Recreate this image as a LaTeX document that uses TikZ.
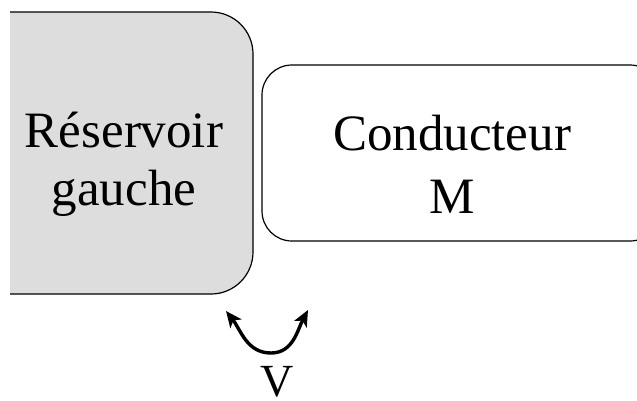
\documentclass[tikz,border=0pt]{standalone}
\usepackage{fontspec}
\setmainfont{Liberation Serif}
\usetikzlibrary{arrows.meta}
\begin{document}
\begin{tikzpicture}[x=1pt,y=1pt,
  boxline/.style={line width=1.2pt, draw=black},
  bigtext/.style={align=center, inner sep=0pt},
  tipstyle/.style={Stealth[length=16pt,width=14pt,inset=4pt]},
  swing/.style={line width=3.4pt, {Stealth[length=16pt,width=14pt,inset=4pt]}-{Stealth[length=16pt,width=14pt,inset=4pt]}}]
\useasboundingbox (0,0) rectangle (637,-400);
\clip (0,0) rectangle (637,-400);
% left reservoir
\path[fill=gray!27, boxline, rounded corners=42] (10,-12) -- (253,-12) -- (253,-294) -- (10,-294);
% right conductor
\path[fill=white, boxline, rounded corners=30] (660,-65) -- (262,-65) -- (262,-241) -- (660,-241) -- cycle;
\node[bigtext, font=\fontsize{51}{58}\selectfont] (res) at (124,-164) {Réservoir\\gauche};
\node[bigtext, font=\fontsize{51}{63}\selectfont] (cond) at (452,-164) {Conducteur\\M};
\coordinate (a1) at (226,-311);
\coordinate (a2) at (308,-310);
\coordinate (bot) at (271,-353);
\draw[swing] (a1) to[out=-52,in=180] (bot) to[out=0,in=-118] (a2);
\node[font=\fontsize{46}{50}\selectfont, anchor=base, inner sep=0pt] (v) at (277,-396) {V};
\end{tikzpicture}
\end{document}
